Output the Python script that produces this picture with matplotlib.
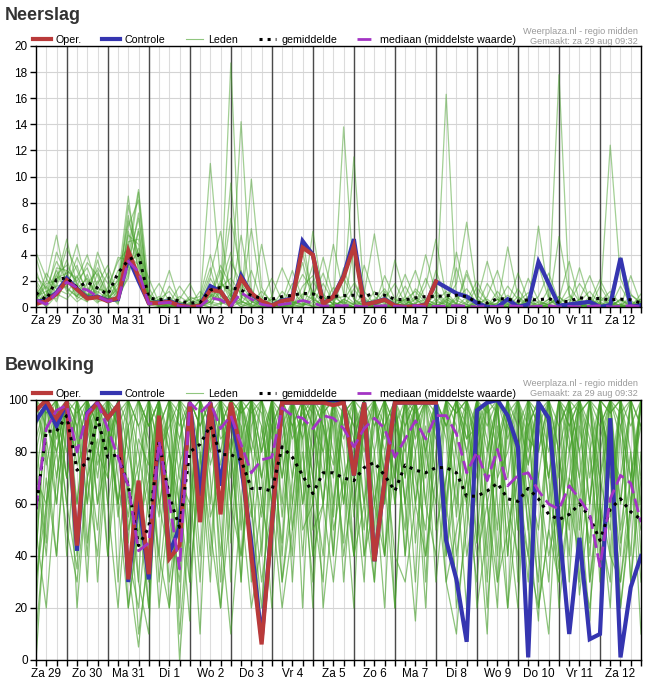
import numpy as np
import matplotlib.pyplot as plt
from matplotlib.lines import Line2D

plt.rcParams['font.family'] = ['Liberation Sans', 'DejaVu Sans']

# tijdas: elke 6 uur vanaf za 29 aug 06:00 (uren)
hours = np.arange(60) * 6
day_labels = ['Za 29', 'Zo 30', 'Ma 31', 'Di 1', 'Wo 2', 'Do 3', 'Vr 4', 'Za 5',
              'Zo 6', 'Ma 7', 'Di 8', 'Wo 9', 'Do 10', 'Vr 11', 'Za 12']

# ---- Neerslag (mm) ----
rain_oper = [0.25, 0.45, 1.0, 2.05, 1.35, 0.65, 0.75, 0.45, 0.7, 4.3,
             2.3, 0.3, 0.3, 0.4, 0.1, 0.0, 0.1, 1.3, 1.2, 0.05,
             2.2, 1.05, 0.45, 0.1, 0.45, 0.6, 4.55, 4.0, 0.2, 0.8,
             2.3, 4.65, 0.15, 0.35, 0.55, 0.1, 0.0, 0.05, 0.15, 1.95]
rain_ctrl = [0.4, 0.5, 1.1, 2.2, 1.4, 0.7, 0.8, 0.5, 0.6, 3.8,
             2.0, 0.3, 0.35, 0.45, 0.15, 0.0, 0.1, 1.6, 1.2, 0.05,
             2.4, 1.0, 0.4, 0.1, 0.5, 0.65, 5.05, 4.0, 0.25, 0.8,
             2.4, 5.2, 0.2, 0.35, 0.6, 0.1, 0.0, 0.05, 0.15, 1.95,
             1.5, 1.05, 0.8, 0.3, 0.0, 0.0, 0.6, 0.0, 0.2, 3.45,
             1.8, 0.1, 0.2, 0.3, 0.4, 0.0, 0.15, 3.75, 0.0, 0.15]
rain_mean = [1.1, 0.55, 2.1, 2.25, 1.5, 1.9, 1.45, 0.95, 2.6, 3.6,
             4.0, 0.7, 0.55, 0.65, 0.45, 0.3, 0.35, 1.3, 1.5, 1.5,
             1.3, 0.87, 0.67, 0.6, 0.8, 0.9, 1.05, 1.0, 0.67, 0.8,
             0.87, 0.9, 0.8, 1.05, 0.9, 0.6, 0.55, 0.7, 0.8, 0.8,
             0.87, 0.9, 0.8, 0.35, 0.3, 0.65, 0.6, 0.45, 0.55, 0.55,
             0.65, 0.35, 0.45, 0.7, 0.65, 0.65, 0.55, 0.6, 0.55, 0.3]
rain_median = [0.55, 0.2, 1.1, 1.9, 1.5, 1.3, 0.8, 0.45, 0.55, 3.5,
               2.7, 0.25, 0.3, 0.35, 0.05, 0.0, 0.05, 0.7, 0.55, 0.05,
               1.1, 0.6, 0.2, 0.05, 0.2, 0.3, 0.5, 0.3, 0.05, 0.1,
               0.1, 0.1, 0.0, 0.05, 0.1, 0.05, 0.0, 0.1, 0.0, 0.05,
               0.05, 0.1, 0.05, 0.0, 0.05, 0.0, 0.1, 0.05, 0.0, 0.05,
               0.1, 0.0, 0.05, 0.0, 0.05, 0.1, 0.0, 0.05, 0.1, 0.0]
rain_members = [
    [0.5, 0.8, 2.5, 3.2, 1.8, 0.9, 1.2, 0.6, 1.5, 5.5,
     4.8, 0.3, 0.2, 0.4, 0.1, 0.0, 0.0, 0.8, 1.5, 2.2,
     1.0, 0.4, 0.2, 0.0, 0.3, 0.9, 2.5, 1.2, 0.2, 0.1,
     0.5, 1.8, 0.4, 0.2, 0.0, 0.1, 0.6, 1.2, 0.3, 0.1,
     0.0, 0.2, 2.5, 0.6, 0.1, 0.0, 0.0, 0.4, 1.1, 0.3,
     0.2, 0.8, 0.1, 0.0, 0.3, 2.1, 0.5, 0.1, 0.0, 0.2],
    [3.8, 1.2, 0.6, 2.8, 2.2, 4.0, 1.5, 0.8, 0.4, 3.5,
     6.8, 1.0, 0.1, 0.0, 0.6, 1.8, 0.2, 0.0, 0.3, 18.7,
     0.8, 0.2, 0.0, 0.0, 1.2, 0.4, 0.1, 0.6, 3.8, 0.9,
     0.2, 0.0, 0.0, 0.5, 1.4, 0.2, 0.0, 0.0, 0.3, 0.9,
     0.1, 0.0, 0.0, 0.0, 0.8, 2.8, 0.3, 0.0, 0.0, 0.1,
     0.6, 0.2, 0.0, 0.0, 0.4, 0.1, 0.0, 1.6, 0.2, 0.0],
    [1.0, 2.0, 5.5, 1.5, 0.8, 2.5, 0.5, 1.2, 2.0, 8.5,
     2.5, 0.2, 0.5, 2.8, 0.3, 0.0, 0.2, 11.0, 2.0, 0.5,
     5.5, 0.8, 0.1, 0.2, 0.6, 0.3, 0.2, 5.8, 0.8, 0.2,
     2.2, 0.6, 0.1, 0.0, 0.0, 0.4, 2.5, 0.6, 0.1, 0.2,
     16.3, 0.5, 0.2, 0.0, 0.1, 0.3, 0.9, 0.2, 0.0, 0.0,
     0.2, 0.6, 3.5, 0.4, 0.0, 0.2, 0.1, 0.5, 0.1, 0.3],
    [0.2, 0.5, 1.8, 4.5, 2.8, 1.2, 3.0, 1.8, 0.5, 2.5,
     5.8, 0.4, 0.8, 0.3, 1.6, 0.5, 0.0, 0.4, 0.2, 1.0,
     0.3, 9.8, 1.5, 0.2, 0.0, 0.1, 1.0, 0.6, 0.1, 0.0,
     13.8, 2.0, 0.4, 0.1, 0.8, 0.2, 0.0, 0.6, 4.0, 1.0,
     0.3, 0.0, 0.2, 1.5, 0.4, 0.0, 0.0, 0.0, 0.6, 3.2,
     0.6, 17.8, 0.9, 0.2, 0.0, 0.0, 0.3, 0.1, 0.0, 0.1],
    [1.5, 0.2, 2.2, 2.6, 1.0, 0.6, 4.2, 2.2, 1.0, 4.0,
     3.2, 0.8, 0.2, 0.1, 0.0, 0.8, 0.4, 2.5, 5.8, 0.8,
     0.2, 0.0, 0.6, 2.2, 0.5, 0.2, 0.0, 1.2, 0.5, 0.3,
     0.1, 0.0, 3.2, 0.8, 0.2, 0.0, 0.2, 0.1, 0.0, 0.0,
     0.5, 1.8, 6.5, 0.9, 0.2, 0.0, 0.0, 0.1, 0.4, 0.2,
     0.0, 0.0, 0.3, 1.8, 0.6, 0.1, 12.4, 2.2, 0.3, 0.0],
    [0.0, 0.6, 1.2, 1.6, 3.8, 2.0, 0.8, 0.3, 0.6, 6.2,
     8.2, 0.5, 0.0, 0.2, 0.0, 0.1, 1.2, 0.3, 0.0, 3.5,
     1.8, 0.5, 0.0, 0.0, 0.4, 2.8, 0.6, 0.0, 0.2, 1.5,
     0.3, 0.0, 0.0, 1.2, 0.3, 0.0, 0.8, 2.8, 0.4, 0.0,
     0.0, 0.2, 0.0, 0.5, 3.5, 0.8, 0.1, 0.0, 0.0, 0.0,
     1.4, 0.4, 0.0, 0.1, 0.0, 0.6, 0.2, 0.0, 0.9, 0.4],
    [2.4, 1.4, 3.5, 2.0, 1.2, 0.4, 1.8, 3.2, 0.8, 2.8,
     4.5, 0.1, 0.3, 0.6, 0.2, 0.0, 0.0, 0.6, 2.8, 0.8,
     14.2, 1.0, 0.3, 0.1, 0.0, 0.5, 0.2, 0.1, 0.4, 4.8,
     1.0, 0.3, 0.2, 0.0, 0.6, 1.8, 0.3, 0.0, 0.1, 0.0,
     0.6, 0.2, 0.1, 0.0, 0.0, 0.3, 1.6, 0.6, 0.0, 0.0,
     0.1, 0.0, 0.0, 0.4, 1.2, 0.2, 0.0, 0.0, 0.2, 0.6],
    [0.8, 0.0, 0.9, 2.2, 4.8, 1.5, 0.6, 0.9, 2.8, 3.0,
     7.2, 0.6, 0.1, 0.0, 0.4, 0.2, 0.1, 1.5, 0.6, 0.2,
     0.6, 2.8, 0.5, 0.0, 0.2, 0.0, 0.8, 3.2, 1.0, 0.2,
     0.0, 4.5, 1.2, 0.2, 0.0, 0.2, 0.5, 0.1, 1.6, 5.2,
     0.8, 0.3, 0.0, 0.0, 0.1, 0.6, 0.2, 0.0, 2.2, 0.5,
     0.1, 0.0, 0.0, 0.0, 0.2, 0.0, 0.8, 3.8, 1.0, 0.2],
    [4.2, 2.2, 1.0, 0.6, 1.6, 3.4, 2.4, 0.4, 1.2, 7.8,
     3.8, 0.2, 0.6, 1.2, 0.0, 0.0, 0.3, 0.2, 1.2, 6.8,
     2.5, 0.6, 0.2, 0.6, 0.0, 0.2, 4.2, 0.8, 0.0, 0.0,
     0.6, 0.2, 0.0, 0.4, 0.0, 0.6, 0.2, 0.8, 0.2, 0.0,
     0.4, 0.0, 0.8, 0.2, 0.0, 0.0, 0.2, 2.6, 0.5, 0.0,
     0.0, 0.3, 0.8, 0.2, 0.0, 0.0, 0.4, 0.0, 0.0, 1.0],
    [0.3, 1.0, 2.8, 1.2, 0.4, 1.0, 0.3, 1.5, 3.5, 4.5,
     9.0, 1.5, 0.0, 0.2, 0.8, 0.3, 0.0, 0.9, 0.4, 0.0,
     0.4, 0.1, 0.0, 0.8, 3.0, 1.2, 0.3, 0.0, 0.0, 0.6,
     0.8, 11.5, 0.8, 0.0, 0.2, 0.0, 0.0, 0.3, 0.6, 0.2,
     0.0, 0.6, 1.4, 0.3, 0.0, 0.1, 0.0, 0.3, 0.0, 6.2,
     0.8, 0.2, 0.0, 0.6, 0.2, 0.0, 0.0, 0.2, 0.5, 0.0],
    [1.8, 0.4, 1.6, 3.6, 1.4, 2.2, 0.9, 0.4, 2.2, 5.0,
     5.2, 0.3, 0.4, 0.0, 0.2, 0.6, 0.8, 4.0, 1.0, 0.6,
     0.0, 0.3, 1.2, 0.4, 0.0, 0.3, 0.5, 0.2, 1.8, 0.4,
     0.0, 0.2, 0.6, 0.0, 2.4, 0.6, 0.1, 0.0, 0.0, 0.4,
     1.2, 0.2, 0.0, 0.2, 0.6, 0.0, 0.0, 0.8, 0.2, 0.0,
     0.4, 0.2, 1.6, 0.4, 0.0, 0.3, 0.0, 0.6, 0.2, 0.0],
    [0.6, 1.6, 0.4, 2.4, 0.8, 0.4, 2.6, 1.0, 0.2, 3.2,
     4.2, 2.2, 0.3, 0.1, 0.0, 0.0, 0.2, 0.4, 1.8, 1.2,
     0.5, 0.0, 0.0, 0.1, 0.6, 0.0, 0.1, 0.4, 0.0, 0.2,
     0.4, 0.0, 0.2, 0.6, 0.0, 0.0, 0.4, 0.2, 0.0, 0.6,
     0.0, 4.2, 0.6, 0.0, 0.0, 0.2, 0.0, 0.0, 0.4, 0.0,
     0.2, 0.8, 0.0, 0.0, 0.6, 0.2, 0.0, 0.0, 0.0, 0.4],
    [0.3, 2.6, 1.4, 1.0, 2.4, 0.6, 3.6, 0.9, 0.3, 5.8,
     3.0, 0.6, 1.8, 0.4, 0.0, 0.3, 0.6, 0.8, 3.2, 1.6,
     0.4, 0.2, 4.8, 0.8, 0.1, 0.0, 1.6, 2.4, 0.3, 0.0,
     0.6, 0.2, 1.0, 5.6, 0.8, 0.2, 0.0, 1.4, 0.6, 0.2,
     0.0, 0.8, 0.2, 0.0, 1.8, 0.6, 0.0, 0.0, 0.2, 0.8,
     2.6, 0.4, 0.0, 0.2, 0.0, 0.4, 1.2, 0.2, 0.0, 0.6],
    [2.0, 0.8, 4.2, 2.4, 0.6, 1.4, 0.4, 0.6, 1.8, 6.6,
     4.0, 0.2, 0.0, 1.6, 0.4, 0.0, 0.0, 2.2, 0.8, 9.5,
     1.2, 0.0, 0.4, 0.2, 0.0, 0.8, 3.4, 0.4, 0.0, 0.2,
     3.0, 0.6, 0.0, 0.2, 0.4, 0.0, 0.0, 0.2, 2.2, 0.4,
     0.2, 0.0, 0.4, 2.0, 0.4, 0.0, 0.6, 0.2, 0.0, 0.2,
     0.0, 5.4, 1.0, 0.0, 0.0, 0.8, 0.2, 0.0, 0.4, 0.0],
    [0.6, 1.8, 2.0, 5.2, 1.6, 0.8, 2.0, 0.4, 0.9, 2.2,
     6.0, 0.8, 0.0, 0.2, 0.0, 0.6, 0.2, 0.0, 1.6, 4.2,
     0.6, 6.0, 0.8, 0.0, 0.0, 0.2, 0.0, 2.0, 0.6, 0.8,
     0.2, 0.0, 0.6, 0.0, 0.0, 3.6, 0.8, 0.0, 0.0, 1.2,
     0.4, 0.0, 0.0, 0.2, 0.0, 0.0, 4.6, 0.8, 0.0, 0.0,
     0.6, 0.0, 0.2, 3.0, 0.4, 0.0, 0.0, 0.6, 0.0, 0.2],
    [1.2, 0.0, 3.0, 2.8, 2.0, 3.0, 1.0, 2.6, 0.6, 4.8,
     2.0, 0.4, 0.2, 0.0, 0.2, 0.0, 0.4, 1.0, 0.6, 0.0,
     2.8, 0.4, 0.0, 0.6, 0.2, 1.8, 0.6, 0.0, 0.8, 0.2,
     0.0, 1.4, 0.2, 0.0, 0.0, 0.2, 1.6, 0.2, 0.0, 0.0,
     0.8, 0.2, 2.8, 0.6, 0.0, 0.2, 0.0, 0.0, 0.8, 0.0,
     0.2, 0.0, 0.0, 0.6, 2.4, 0.4, 0.0, 0.2, 0.0, 0.0],
    [0.8, 1.2, 1.6, 1.8, 3.2, 0.8, 1.4, 1.2, 3.8, 3.6,
     8.8, 0.2, 0.6, 0.0, 0.0, 0.2, 0.0, 0.4, 2.0, 0.8,
     0.0, 0.6, 0.2, 0.0, 0.8, 0.0, 5.2, 0.6, 0.2, 0.0,
     0.4, 0.2, 0.0, 0.0, 1.2, 0.2, 0.6, 0.0, 0.4, 0.0,
     0.0, 3.0, 0.4, 0.0, 0.0, 1.2, 0.2, 0.0, 0.0, 0.4,
     0.2, 0.0, 0.6, 0.0, 0.0, 1.6, 0.3, 0.0, 2.4, 0.2],
    [2.8, 0.6, 2.4, 1.4, 0.8, 1.8, 2.8, 0.6, 1.4, 7.0,
     3.4, 1.0, 0.2, 0.8, 0.0, 0.0, 0.6, 3.0, 0.2, 0.6,
     0.2, 1.4, 0.0, 0.2, 0.0, 0.4, 0.2, 0.8, 2.6, 0.4,
     0.0, 0.0, 0.4, 0.2, 0.0, 0.0, 0.2, 0.6, 0.0, 2.8,
     0.6, 0.0, 0.0, 0.4, 0.0, 0.6, 0.0, 1.4, 0.2, 0.0,
     0.0, 0.2, 0.0, 0.0, 0.8, 0.0, 0.6, 0.0, 0.2, 0.0],
]

# ---- Bewolking (%) ----
cloud_oper = [96, 100, 93, 99, 44, 94, 99, 93, 98, 31,
              69, 33, 94, 39, 44, 99, 53, 99, 56, 99,
              80, 40, 6, 52, 99, 99, 99, 99, 99, 98,
              99, 71, 99, 38, 69, 99, 99, 99, 99, 99]
cloud_ctrl = [92, 98, 90, 99, 42, 95, 99, 93, 98, 30,
              63, 31, 90, 41, 51, 99, 63, 99, 67, 95,
              75, 45, 8, 52, 99, 99, 99, 99, 99, 100,
              99, 71, 99, 38, 69, 99, 99, 99, 99, 99,
              46, 31, 7, 96, 99, 100, 94, 82, 1, 99,
              93, 52, 10, 47, 8, 10, 93, 1, 28, 40]
cloud_mean = [58, 88, 88, 94, 73, 76, 93, 78, 79, 67,
              44, 51, 84, 63, 51, 80, 83, 90, 79, 79,
              77, 66, 66, 65, 82, 78, 71, 64, 72, 72,
              70, 69, 74, 76, 71, 65, 75, 73, 72, 74,
              74, 72, 63, 63, 65, 68, 62, 61, 66, 62,
              56, 54, 56, 60, 55, 46, 58, 62, 57, 54]
cloud_median = [58, 89, 96, 98, 80, 95, 99, 89, 78, 67,
                42, 45, 84, 61, 35, 99, 95, 99, 89, 94,
                83, 72, 77, 78, 97, 94, 93, 89, 94, 93,
                89, 82, 89, 93, 89, 78, 85, 92, 85, 94,
                94, 87, 72, 80, 69, 81, 67, 71, 72, 65,
                60, 58, 67, 62, 56, 36, 62, 71, 68, 53]
cloud_members = [
    [90, 100, 85, 100, 60, 95, 100, 100, 70, 40, 20, 65, 100, 55, 30, 100, 90, 100, 75, 100,
     60, 20, 45, 100, 100, 85, 95, 100, 70, 100, 80, 40, 100, 100, 60, 100, 100, 85, 100, 95,
     30, 10, 60, 100, 80, 100, 55, 20, 90, 100, 70, 35, 100, 60, 15, 85, 100, 45, 70, 90],
    [60, 95, 100, 80, 100, 70, 85, 40, 100, 100, 70, 20, 80, 95, 60, 15, 100, 60, 100, 45,
     100, 100, 70, 20, 85, 100, 40, 90, 100, 55, 100, 100, 75, 30, 100, 80, 50, 100, 70, 100,
     100, 90, 40, 65, 100, 30, 90, 100, 50, 15, 100, 80, 40, 95, 100, 60, 20, 90, 100, 55],
    [20, 85, 60, 100, 90, 30, 100, 95, 55, 80, 100, 85, 40, 100, 95, 70, 10, 95, 100, 80,
     40, 90, 100, 75, 30, 60, 100, 70, 40, 95, 60, 100, 85, 100, 40, 75, 100, 60, 90, 30,
     70, 100, 95, 20, 50, 85, 100, 70, 30, 95, 60, 100, 85, 25, 60, 100, 75, 40, 100, 70],
    [100, 75, 95, 60, 35, 100, 70, 100, 90, 20, 55, 100, 30, 70, 100, 90, 60, 100, 30, 100,
     90, 60, 10, 100, 70, 100, 85, 20, 100, 80, 45, 100, 60, 90, 100, 20, 95, 100, 40, 80,
     100, 55, 100, 90, 20, 70, 100, 50, 100, 65, 30, 90, 100, 70, 45, 100, 55, 100, 30, 80],
    [40, 100, 100, 90, 80, 100, 60, 80, 100, 65, 30, 10, 100, 85, 20, 100, 100, 75, 90, 100,
     100, 80, 55, 90, 100, 50, 100, 95, 60, 100, 100, 70, 30, 100, 85, 100, 60, 90, 100, 100,
     85, 40, 70, 100, 100, 60, 20, 95, 75, 100, 90, 20, 60, 100, 85, 30, 90, 60, 100, 40],
    [80, 100, 70, 100, 100, 60, 95, 100, 30, 100, 80, 55, 100, 20, 65, 100, 80, 30, 100, 70,
     100, 40, 85, 100, 60, 100, 20, 100, 90, 75, 100, 55, 100, 70, 20, 100, 85, 30, 100, 90,
     60, 100, 80, 45, 100, 95, 70, 100, 60, 30, 100, 70, 100, 40, 100, 80, 100, 20, 55, 100],
    [0, 60, 100, 100, 75, 85, 100, 60, 90, 35, 5, 45, 90, 100, 10, 60, 100, 90, 40, 100,
     85, 100, 60, 40, 100, 90, 70, 100, 20, 60, 95, 100, 40, 80, 100, 60, 100, 45, 85, 100,
     40, 85, 100, 60, 10, 100, 90, 80, 100, 20, 50, 100, 30, 90, 60, 100, 40, 100, 80, 10],
    [100, 95, 100, 40, 90, 100, 80, 100, 100, 80, 60, 30, 70, 100, 80, 40, 100, 100, 60, 85,
     30, 100, 95, 60, 100, 70, 100, 40, 95, 100, 70, 85, 100, 50, 100, 90, 40, 100, 80, 60,
     100, 70, 20, 100, 60, 80, 100, 30, 95, 70, 100, 50, 80, 100, 30, 60, 100, 85, 40, 100],
    [75, 40, 90, 100, 100, 80, 100, 85, 60, 100, 90, 100, 60, 40, 100, 80, 30, 100, 100, 60,
     100, 70, 100, 90, 40, 100, 60, 80, 100, 40, 100, 90, 60, 100, 70, 100, 100, 60, 100, 100,
     90, 100, 70, 100, 85, 50, 100, 80, 60, 100, 80, 100, 60, 100, 90, 70, 50, 100, 100, 60],
    [50, 90, 80, 100, 45, 100, 90, 100, 80, 55, 85, 75, 100, 60, 85, 100, 55, 85, 100, 100,
     70, 100, 40, 100, 95, 60, 100, 90, 60, 100, 85, 100, 100, 60, 90, 100, 70, 100, 60, 100,
     55, 100, 85, 90, 100, 40, 95, 100, 85, 80, 100, 60, 90, 70, 100, 95, 80, 70, 100, 90],
    [95, 100, 90, 70, 100, 90, 100, 100, 100, 90, 100, 60, 100, 100, 90, 100, 100, 80, 100, 95,
     100, 95, 100, 85, 100, 100, 90, 100, 100, 100, 95, 100, 100, 90, 100, 100, 100, 95, 100, 85,
     100, 95, 100, 100, 90, 100, 85, 100, 100, 90, 100, 100, 95, 100, 100, 90, 100, 95, 100, 100],
    [30, 70, 40, 95, 100, 45, 80, 70, 100, 60, 75, 100, 80, 30, 60, 95, 100, 55, 70, 100,
     80, 55, 90, 60, 80, 100, 50, 60, 100, 90, 40, 70, 100, 60, 40, 90, 100, 70, 50, 100,
     90, 60, 100, 80, 70, 100, 40, 100, 70, 50, 90, 40, 70, 100, 60, 100, 70, 30, 60, 100],
    [100, 100, 100, 100, 95, 100, 100, 100, 95, 100, 100, 90, 100, 100, 100, 95, 100, 100, 100, 100,
     95, 100, 100, 100, 90, 100, 100, 100, 95, 100, 100, 100, 95, 100, 100, 100, 90, 100, 100, 100,
     100, 95, 100, 100, 95, 100, 100, 100, 100, 95, 100, 100, 90, 100, 100, 100, 95, 100, 100, 100],
    [85, 45, 100, 70, 95, 100, 75, 90, 60, 90, 45, 80, 55, 100, 40, 100, 70, 100, 100, 30,
     100, 85, 70, 100, 55, 90, 100, 80, 100, 60, 100, 40, 90, 100, 100, 60, 100, 100, 30, 100,
     100, 80, 60, 100, 40, 100, 100, 60, 40, 100, 70, 100, 100, 50, 100, 45, 100, 100, 70, 100],
    [10, 55, 95, 100, 100, 100, 60, 100, 100, 100, 100, 100, 80, 90, 100, 100, 70, 100, 85, 90,
     75, 100, 100, 50, 100, 100, 85, 100, 100, 100, 90, 100, 100, 100, 80, 100, 70, 100, 100, 100,
     100, 100, 90, 70, 100, 100, 100, 90, 100, 100, 100, 90, 100, 100, 70, 100, 95, 100, 100, 100],
    [70, 100, 60, 100, 20, 70, 100, 80, 100, 100, 100, 90, 100, 60, 100, 45, 100, 100, 90, 100,
     50, 100, 100, 100, 70, 100, 100, 60, 100, 100, 100, 85, 100, 100, 100, 100, 60, 100, 100, 70,
     100, 100, 100, 85, 100, 100, 100, 100, 75, 100, 100, 100, 100, 80, 100, 100, 100, 60, 100, 100],
    [50, 20, 70, 100, 85, 40, 100, 60, 20, 70, 10, 40, 95, 80, 0, 55, 100, 70, 20, 80,
     100, 60, 20, 80, 45, 100, 70, 30, 90, 50, 70, 20, 100, 80, 40, 100, 60, 15, 80, 100,
     60, 30, 100, 45, 70, 100, 20, 60, 90, 40, 10, 80, 50, 100, 30, 70, 90, 20, 60, 100],
    [100, 80, 40, 90, 60, 100, 30, 85, 100, 45, 100, 80, 20, 60, 100, 30, 75, 100, 50, 10,
     60, 100, 80, 100, 30, 70, 100, 50, 60, 100, 30, 80, 50, 100, 70, 20, 90, 100, 60, 40,
     100, 20, 50, 100, 30, 90, 60, 40, 100, 70, 40, 60, 100, 30, 80, 40, 60, 100, 30, 70],
    [40, 100, 90, 60, 100, 80, 50, 100, 60, 90, 30, 100, 60, 80, 50, 100, 90, 40, 100, 60,
     90, 30, 60, 100, 80, 40, 100, 60, 30, 100, 60, 100, 40, 60, 90, 100, 40, 80, 100, 50,
     70, 100, 60, 30, 80, 100, 40, 90, 50, 100, 60, 30, 100, 80, 40, 90, 100, 50, 80, 30],
    [70, 60, 100, 100, 40, 90, 100, 40, 80, 100, 55, 20, 100, 40, 75, 90, 40, 100, 80, 100,
     30, 100, 70, 90, 100, 30, 90, 100, 80, 40, 100, 60, 90, 40, 100, 70, 100, 80, 20, 100,
     40, 70, 100, 100, 60, 20, 100, 50, 100, 80, 100, 40, 70, 60, 100, 50, 30, 100, 60, 100],
    [100, 100, 80, 100, 90, 60, 100, 100, 90, 100, 100, 90, 100, 80, 60, 100, 100, 100, 70, 100,
     95, 100, 80, 100, 100, 90, 100, 70, 100, 100, 100, 90, 100, 100, 60, 100, 100, 90, 100, 100,
     90, 100, 80, 100, 100, 80, 100, 100, 90, 100, 100, 80, 100, 95, 100, 100, 70, 100, 90, 100],
    [85, 100, 100, 70, 100, 100, 90, 80, 100, 50, 70, 100, 90, 100, 70, 60, 100, 90, 100, 90,
     100, 80, 100, 70, 100, 100, 60, 100, 90, 70, 100, 100, 80, 100, 90, 70, 100, 100, 80, 100,
     60, 100, 100, 80, 100, 70, 80, 100, 100, 90, 70, 100, 90, 100, 80, 100, 100, 90, 70, 100],
    [30, 60, 80, 50, 30, 70, 40, 90, 60, 20, 50, 70, 40, 20, 60, 30, 80, 50, 20, 60,
     40, 70, 30, 60, 20, 50, 80, 40, 60, 30, 70, 40, 60, 30, 80, 40, 30, 60, 40, 70,
     30, 50, 70, 40, 60, 30, 50, 70, 40, 20, 50, 30, 60, 40, 20, 60, 40, 30, 70, 50],
    [100, 90, 100, 100, 80, 100, 100, 70, 100, 100, 90, 70, 100, 100, 85, 100, 90, 100, 100, 80,
     100, 100, 90, 60, 100, 100, 100, 90, 80, 100, 100, 80, 100, 100, 100, 90, 80, 100, 100, 100,
     100, 100, 85, 100, 70, 100, 100, 100, 80, 100, 100, 100, 80, 100, 100, 70, 100, 100, 100, 90],
]

c_red = '#b93a3a'
c_blue = '#3535b0'
c_green = '#46a02a'
c_purple = '#a334c4'

noon = np.arange(15) * 24 + 6
midnight = np.arange(14) * 24 + 18


def draw_panel(ax, members, oper, ctrl, mean, median, ymax, ystep, alpha):
    for m in members:
        ax.plot(hours, m, color=c_green, lw=0.9, alpha=alpha, zorder=2)
    ax.plot(hours[:len(ctrl)], ctrl, color=c_blue, lw=3, zorder=4, solid_joinstyle='miter')
    ax.plot(hours[:len(oper)], oper, color=c_red, lw=3, zorder=5, solid_joinstyle='miter')
    ax.plot(hours, mean, color='black', lw=2.2, ls=':', zorder=6)
    ax.plot(hours, median, color=c_purple, lw=2, ls=(0, (5, 2)), zorder=6)

    ax.set_xlim(0, 354)
    ax.set_ylim(0, ymax)
    ax.set_yticks(np.arange(0, ymax + 1, ystep))
    ax.set_xticks(noon, day_labels)
    ax.set_xticks(hours, minor=True)
    ax.grid(True, which='both', axis='x', color='#dcdcdc', lw=0.8, zorder=0)
    ax.grid(True, which='major', axis='y', color='#d4d4d4', lw=0.8, zorder=0)
    ax.set_axisbelow(True)
    for mn in midnight:
        ax.axvline(mn, color='#4a4a4a', lw=1.0, zorder=1)
    ax.tick_params(which='both', direction='out', length=4, width=1, color='black',
                   labelsize=8.5, pad=2)
    for s in ax.spines.values():
        s.set_linewidth(1)
        s.set_zorder(7)

    handles = [Line2D([], [], color=c_red, lw=3),
               Line2D([], [], color=c_blue, lw=3),
               Line2D([], [], color=c_green, lw=0.8, alpha=0.6),
               Line2D([], [], color='black', lw=2.2, ls=':'),
               Line2D([], [], color=c_purple, lw=2, ls=(0, (5, 2)))]
    labels = ['Oper.', 'Controle', 'Leden', 'gemiddelde', 'mediaan (middelste waarde)']
    ax.legend(handles, labels, loc='lower left', bbox_to_anchor=(-0.006, 1.0), ncol=5,
              frameon=False, fontsize=7.7, handlelength=1.6, handletextpad=0.5,
              columnspacing=1.9, borderaxespad=0.1, borderpad=0)


fig = plt.figure(figsize=(6.53, 6.86), dpi=100)
W, H = 653, 686
ax1 = fig.add_axes([36 / W, 1 - 307 / H, 605 / W, 261 / H])
ax2 = fig.add_axes([36 / W, 1 - 660 / H, 605 / W, 260 / H])

draw_panel(ax1, rain_members, rain_oper, rain_ctrl, rain_mean, rain_median, 20, 2, 0.5)
draw_panel(ax2, cloud_members, cloud_oper, cloud_ctrl, cloud_mean, cloud_median, 100, 20, 0.62)

for title, ypx in [('Neerslag', 15), ('Bewolking', 366)]:
    fig.text(5 / W, 1 - ypx / H, title, fontsize=13, fontweight='bold', color='#333333',
             va='center', ha='left')
for ytop in [31, 384]:
    fig.text(638 / W, 1 - ytop / H, 'Weerplaza.nl - regio midden', fontsize=6.6,
             color='#9a9a9a', ha='right', va='center')
    fig.text(638 / W, 1 - (ytop + 10) / H, 'Gemaakt: za 29 aug 09:32', fontsize=6.6,
             color='#9a9a9a', ha='right', va='center')

fig.savefig('out.png', dpi=100)
